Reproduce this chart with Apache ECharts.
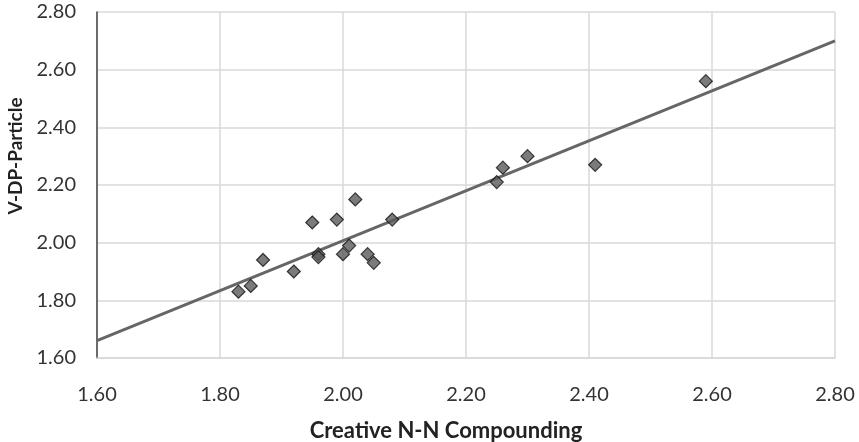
<!DOCTYPE html>
<html>
<head>
<meta charset="utf-8">
<script src="https://cdn.jsdelivr.net/npm/echarts@6/dist/echarts.min.js"></script>
<style>
  html, body { margin: 0; padding: 0; background: #fff; }
  #chart { width: 859px; height: 442px; }
</style>
</head>
<body>
<div id="chart"></div>
<script>
// scatter points
const compoundingX = [1.83, 1.85, 1.87, 1.92, 1.95, 1.96, 1.96, 1.99, 2.00, 2.01, 2.02, 2.04, 2.05, 2.08, 2.25, 2.26, 2.30, 2.41, 2.59];
const particleY   = [1.83, 1.85, 1.94, 1.90, 2.07, 1.96, 1.95, 2.08, 1.96, 1.99, 2.15, 1.96, 1.93, 2.08, 2.21, 2.26, 2.30, 2.27, 2.56];

// linear trendline, end points as seen
const trendX = [1.60, 2.80];
const trendY = [1.66, 2.70];

const points = compoundingX.map((x, i) => [x, particleY[i]]);
const trend = trendX.map((x, i) => [x, trendY[i]]);

const chart = echarts.init(document.getElementById('chart'));
const font = 'Lato, "Open Sans", sans-serif';

chart.setOption({
  animation: false,
  grid: { left: 97, right: 24, top: 12, bottom: 84, outerBoundsMode: 'none' },
  xAxis: {
    type: 'value',
    min: 1.6, max: 2.8, interval: 0.2,
    name: 'Creative N-N Compounding',
    nameLocation: 'middle',
    nameGap: 62,
    nameTextStyle: { fontFamily: font, fontWeight: 'bold', fontSize: 22, color: '#222', padding: [0, 40, 0, 0] },
    axisLine: { show: true, lineStyle: { color: '#d9d9d9', width: 1.5 } },
    axisTick: { show: false },
    axisLabel: { fontFamily: font, fontSize: 20, color: '#333', margin: 27, formatter: v => v.toFixed(2) },
    splitLine: { show: true, lineStyle: { color: '#d9d9d9', width: 1.5 } }
  },
  yAxis: {
    type: 'value',
    min: 1.6, max: 2.8, interval: 0.2,
    name: 'V-DP-Particle',
    nameLocation: 'middle',
    nameGap: 71,
    nameTextStyle: { fontFamily: font, fontWeight: 'bold', fontSize: 19, color: '#222', padding: [0, 0, 0, 58] },
    axisLine: { show: true, lineStyle: { color: '#444', width: 1.5 } },
    axisTick: { show: false },
    axisLabel: { fontFamily: font, fontSize: 20, color: '#333', margin: 21, formatter: v => v.toFixed(2) },
    splitLine: { show: true, lineStyle: { color: '#d9d9d9', width: 1.5 } }
  },
  series: [
    {
      type: 'line',
      data: trend,
      symbol: 'none',
      lineStyle: { color: '#666', width: 3 },
      z: 2
    },
    {
      type: 'scatter',
      data: points,
      symbol: 'diamond',
      symbolSize: 13,
      itemStyle: { color: '#5a5a5a', borderColor: '#111', borderWidth: 1.2 },
      z: 3
    }
  ]
});
</script>
</body>
</html>
